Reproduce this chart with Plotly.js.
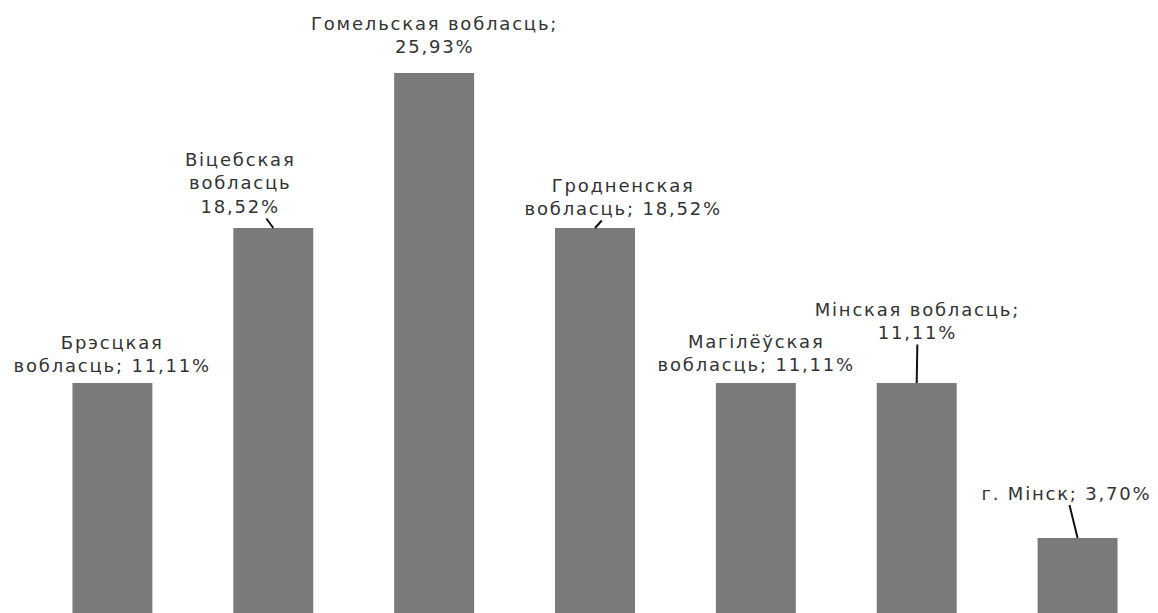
<!DOCTYPE html>
<html>
<head>
<meta charset="utf-8">
<script src="https://cdn.plot.ly/plotly-3.0.1.min.js"></script>
<style>
html,body{margin:0;padding:0;background:#fff;overflow:hidden;}
#chart{width:1158px;height:613px;}
#chart .annotation-text{letter-spacing:1.8px;}
</style>
</head>
<body>
<div id="chart"></div>
<script>
const categories = ["Брэсцкая вобласць", "Віцебская вобласць", "Гомельская вобласць", "Гродненская вобласць", "Магілёўская вобласць", "Мінская вобласць", "г. Мінск"];
const values = [11.11, 18.52, 25.93, 18.52, 11.11, 11.11, 3.70];
const labelTexts = [
  "Брэсцкая<br>вобласць; 11,11%",
  "Віцебская<br>вобласць<br>18,52%",
  "Гомельская вобласць;<br>25,93%",
  "Гродненская<br>вобласць; 18,52%",
  "Магілёўская<br>вобласць; 11,11%",
  "Мінская вобласць;<br>11,11%",
  "г. Мінск; 3,70%"
];
// label offsets (pixels) from bar top, and whether a leader line is drawn
const labelOffsets = [[0, -29], [-33, -45], [0, -38], [28, -31], [0, -30], [1, -62], [-11, -45]];
const leaders = [false, true, false, true, false, true, true];

const annotations = categories.map((c, i) => {
  const a = {
    x: c, y: values[i], xref: 'x', yref: 'y',
    text: labelTexts[i],
    font: {family: 'DejaVu Sans, sans-serif', size: 18, color: '#333333'},
    align: 'center'
  };
  if (leaders[i]) {
    Object.assign(a, {showarrow: true, arrowhead: 0, arrowwidth: 2, arrowcolor: '#111111',
      ax: labelOffsets[i][0], ay: labelOffsets[i][1], standoff: 0, startstandoff: 0});
  } else {
    Object.assign(a, {showarrow: false, xshift: labelOffsets[i][0], yshift: -labelOffsets[i][1], yanchor: 'middle'});
  }
  return a;
});

const trace = {
  type: 'bar', x: categories, y: values,
  marker: {color: '#7a7a7a'},
  hoverinfo: 'skip'
};

const layout = {
  width: 1158, height: 613,
  margin: {l: 32, r: 0, t: 0, b: 0, pad: 0},
  paper_bgcolor: '#ffffff', plot_bgcolor: '#ffffff',
  bargap: 0.503,
  showlegend: false,
  xaxis: {visible: false, showgrid: false, zeroline: false, range: [-0.5, 6.5], automargin: false},
  yaxis: {visible: false, showgrid: false, zeroline: false, range: [0.115, 29.42], automargin: false},
  annotations: annotations
};

Plotly.newPlot('chart', [trace], layout, {displayModeBar: false, staticPlot: true});
</script>
</body>
</html>
